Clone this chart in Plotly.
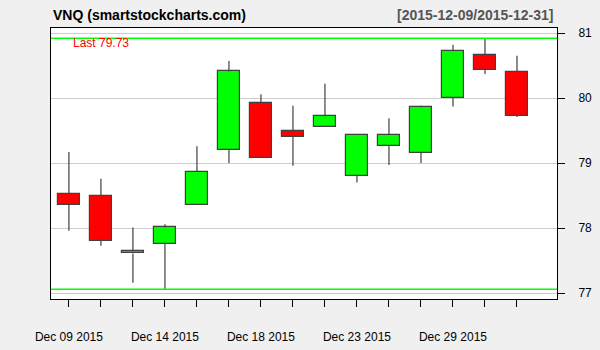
import plotly.graph_objects as go

dates = ["2015-12-09", "2015-12-10", "2015-12-11", "2015-12-14", "2015-12-15",
         "2015-12-16", "2015-12-18", "2015-12-21", "2015-12-22", "2015-12-23",
         "2015-12-24", "2015-12-28", "2015-12-29", "2015-12-30", "2015-12-31"]
opens = [78.53, 78.49, 77.61, 77.76, 78.36, 79.20, 79.92, 79.50, 79.56, 78.80,
         79.27, 79.16, 80.00, 80.66, 80.40]
highs = [79.17, 78.76, 78.01, 78.06, 79.26, 80.57, 80.06, 79.88, 80.22, 79.44,
         79.69, 79.88, 80.82, 80.92, 80.65]
lows = [77.96, 77.73, 77.16, 77.06, 78.36, 79.00, 79.08, 78.96, 79.56, 78.70,
        78.97, 79.00, 79.87, 80.37, 79.71]
closes = [78.36, 77.80, 77.65, 78.01, 78.87, 80.41, 79.08, 79.40, 79.72, 79.43,
          79.43, 79.86, 80.72, 80.43, 79.73]
tick_labels = ["Dec 09 2015", "", "", "Dec 14 2015", "", "", "Dec 18 2015", "", "",
               "Dec 23 2015", "", "", "Dec 29 2015", "", ""]
y_ticks = [77, 78, 79, 80, 81]

UP = "#00ff00"
DOWN = "#ff0000"
EDGE = "#404040"

fig = go.Figure()

# wicks (upper and lower segments, so they never cross the bodies)
wx, wy = [], []
for d, o, h, l, c in zip(dates, opens, highs, lows, closes):
    top, bot = max(o, c), min(o, c)
    if h > top:
        wx += [d, d, None]
        wy += [top, h, None]
    if l < bot:
        wx += [d, d, None]
        wy += [l, bot, None]
fig.add_trace(go.Scatter(x=wx, y=wy, mode="lines",
                         line=dict(color=EDGE, width=1.2),
                         hoverinfo="skip", showlegend=False))

# bodies
fig.add_trace(go.Bar(
    x=dates,
    base=[min(o, c) for o, c in zip(opens, closes)],
    y=[abs(c - o) for o, c in zip(opens, closes)],
    width=0.67,
    marker=dict(color=[UP if c >= o else DOWN for o, c in zip(opens, closes)],
                line=dict(color=EDGE, width=1.2)),
    showlegend=False,
))

# max high / min low lines
for v in (max(highs), min(lows)):
    fig.add_shape(type="line", xref="x domain", x0=0, x1=1, yref="y", y0=v, y1=v,
                  line=dict(color="#00ff00", width=1.5))

fig.add_annotation(text="Last %.2f" % closes[-1], xref="paper", yref="paper",
                   x=0.0395, y=0.9435, xanchor="left", yanchor="middle",
                   showarrow=False, font=dict(color="#ff0000", size=12,
                                              family="Liberation Sans"))
fig.add_annotation(text="<b>VNQ (smartstockcharts.com)</b>", xref="paper", yref="paper",
                   x=0, y=1, yshift=13, xanchor="left", yanchor="middle",
                   showarrow=False, font=dict(color="#000000", size=14,
                                              family="Liberation Sans"))
fig.add_annotation(text="<b>[%s/%s]</b>" % (dates[0], dates[-1]), xref="paper", yref="paper",
                   x=1, xshift=-2, y=1, yshift=13, xanchor="right", yanchor="middle",
                   showarrow=False, font=dict(color="#555555", size=14,
                                              family="Liberation Sans"))

fig.update_layout(
    width=600, height=350,
    margin=dict(l=51, r=43, t=28, b=51, autoexpand=False),
    paper_bgcolor="#f0f0f0", plot_bgcolor="#ffffff",
    font=dict(family="Liberation Sans", size=12, color="#000000"),
    bargap=0,
)
fig.update_xaxes(
    type="category", range=[-0.56, 15.25], automargin=False,
    tickvals=dates, ticktext=tick_labels,
    ticks="outside", ticklen=7, tickcolor="#000000", tickwidth=1,
    showgrid=False, showline=True, linecolor="#000000", linewidth=1, mirror=True,
    ticklabelstandoff=20, tickfont=dict(size=12, color="#000000"),
    zeroline=False,
)
fig.update_yaxes(
    side="right", range=[76.91, 81.077], automargin=False,
    tickvals=y_ticks, ticks="outside", ticklen=7, tickcolor="#000000", tickwidth=1,
    showgrid=True, gridcolor="#cccccc", gridwidth=1,
    showline=True, linecolor="#000000", linewidth=1, mirror=True,
    ticklabelstandoff=11, tickfont=dict(size=12, color="#000000"),
    zeroline=False,
)

fig.write_html("out.html")
